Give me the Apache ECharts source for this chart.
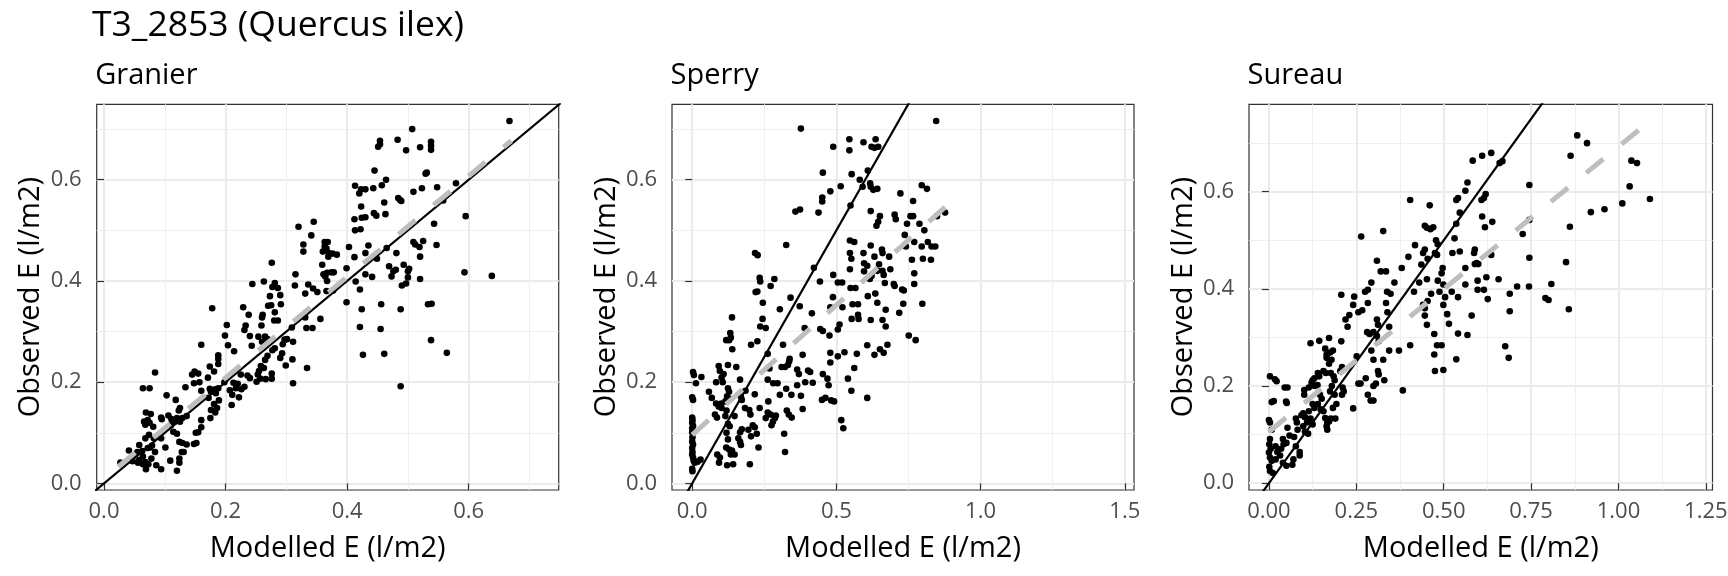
<!DOCTYPE html>
<html>
<head>
<meta charset="utf-8">
<script src="https://cdn.jsdelivr.net/npm/echarts@6/dist/echarts.min.js"></script>
<style>
  html, body { margin: 0; padding: 0; background: #fff; }
  #chart { width: 1728px; height: 576px; }
</style>
</head>
<body>
<div id="chart"></div>
<script>
// points: [modelled, observed]
var granierPoints = [
  [0.667,0.716],[0.507,0.700],[0.454,0.677],[0.454,0.670],[0.483,0.679],[0.451,0.665],[0.497,0.658],[0.538,0.675],[0.538,0.667],[0.538,0.659],
  [0.520,0.664],[0.445,0.618],[0.464,0.600],[0.529,0.612],[0.531,0.614],[0.579,0.593],[0.413,0.588],[0.423,0.581],[0.430,0.581],[0.443,0.583],
  [0.420,0.573],[0.457,0.589],[0.523,0.583],[0.509,0.576],[0.548,0.585],[0.484,0.564],[0.487,0.560],[0.489,0.558],[0.461,0.555],[0.558,0.559],
  [0.595,0.528],[0.423,0.547],[0.444,0.534],[0.448,0.529],[0.463,0.532],[0.424,0.525],[0.430,0.526],[0.412,0.522],[0.543,0.513],[0.413,0.500],
  [0.422,0.502],[0.320,0.507],[0.345,0.517],[0.341,0.490],[0.328,0.472],[0.328,0.458],[0.363,0.477],[0.368,0.477],[0.363,0.468],[0.366,0.464],
  [0.376,0.454],[0.383,0.452],[0.403,0.467],[0.435,0.470],[0.465,0.465],[0.481,0.455],[0.509,0.477],[0.512,0.472],[0.525,0.479],[0.519,0.467],
  [0.520,0.448],[0.547,0.471],[0.412,0.447],[0.430,0.455],[0.449,0.444],[0.493,0.432],[0.502,0.424],[0.500,0.419],[0.497,0.395],[0.500,0.407],
  [0.490,0.391],[0.520,0.404],[0.480,0.422],[0.473,0.409],[0.469,0.429],[0.476,0.419],[0.441,0.408],[0.430,0.413],[0.414,0.399],[0.421,0.383],
  [0.399,0.425],[0.399,0.358],[0.374,0.417],[0.378,0.417],[0.361,0.413],[0.364,0.409],[0.367,0.416],[0.359,0.432],[0.369,0.448],[0.360,0.458],
  [0.370,0.455],[0.367,0.400],[0.377,0.381],[0.366,0.380],[0.351,0.378],[0.344,0.385],[0.331,0.375],[0.336,0.393],[0.356,0.325],[0.331,0.328],
  [0.343,0.307],[0.333,0.307],[0.314,0.391],[0.315,0.413],[0.276,0.436],[0.244,0.394],[0.263,0.399],[0.281,0.396],[0.277,0.388],[0.286,0.386],
  [0.290,0.372],[0.273,0.370],[0.275,0.352],[0.270,0.351],[0.291,0.354],[0.281,0.338],[0.280,0.322],[0.286,0.322],[0.229,0.348],[0.238,0.333],
  [0.233,0.312],[0.231,0.303],[0.261,0.333],[0.260,0.328],[0.259,0.312],[0.240,0.291],[0.254,0.290],[0.265,0.290],[0.243,0.272],[0.260,0.280],
  [0.269,0.285],[0.202,0.313],[0.199,0.292],[0.204,0.273],[0.214,0.261],[0.178,0.346],[0.160,0.274],[0.188,0.253],[0.188,0.246],[0.297,0.284],
  [0.294,0.275],[0.301,0.285],[0.309,0.308],[0.311,0.280],[0.310,0.245],[0.277,0.263],[0.281,0.267],[0.293,0.257],[0.290,0.248],[0.299,0.233],
  [0.269,0.252],[0.265,0.244],[0.258,0.232],[0.255,0.222],[0.253,0.215],[0.263,0.228],[0.276,0.217],[0.276,0.207],[0.266,0.206],[0.257,0.207],
  [0.251,0.201],[0.236,0.213],[0.240,0.208],[0.225,0.215],[0.231,0.191],[0.217,0.188],[0.213,0.199],[0.220,0.197],[0.198,0.200],[0.207,0.184],
  [0.211,0.175],[0.226,0.186],[0.222,0.170],[0.210,0.155],[0.311,0.198],[0.334,0.228],[0.188,0.236],[0.181,0.221],[0.174,0.231],[0.155,0.217],
  [0.149,0.221],[0.145,0.215],[0.157,0.200],[0.171,0.209],[0.148,0.198],[0.160,0.183],[0.174,0.187],[0.176,0.181],[0.183,0.186],[0.184,0.178],
  [0.188,0.188],[0.172,0.169],[0.181,0.157],[0.189,0.164],[0.186,0.149],[0.183,0.140],[0.175,0.129],[0.176,0.145],[0.160,0.125],[0.160,0.111],
  [0.155,0.101],[0.151,0.100],[0.136,0.133],[0.134,0.190],[0.120,0.129],[0.116,0.122],[0.123,0.144],[0.125,0.149],[0.129,0.129],[0.118,0.165],
  [0.106,0.134],[0.111,0.127],[0.110,0.115],[0.125,0.122],[0.114,0.102],[0.120,0.098],[0.124,0.082],[0.129,0.080],[0.136,0.077],[0.128,0.062],
  [0.131,0.062],[0.124,0.049],[0.124,0.041],[0.120,0.025],[0.109,0.045],[0.101,0.071],[0.094,0.089],[0.095,0.127],[0.094,0.130],[0.103,0.174],
  [0.084,0.219],[0.064,0.188],[0.075,0.188],[0.069,0.140],[0.077,0.137],[0.066,0.122],[0.068,0.116],[0.072,0.125],[0.075,0.120],[0.081,0.112],
  [0.074,0.096],[0.068,0.089],[0.082,0.089],[0.079,0.075],[0.076,0.071],[0.084,0.062],[0.078,0.049],[0.086,0.036],[0.094,0.028],[0.072,0.070],
  [0.058,0.076],[0.041,0.065],[0.055,0.062],[0.051,0.057],[0.063,0.064],[0.064,0.053],[0.058,0.046],[0.056,0.041],[0.064,0.038],[0.068,0.042],
  [0.069,0.028],[0.073,0.038],[0.047,0.044],[0.027,0.041],[0.148,0.078],[0.152,0.080],[0.593,0.417],[0.638,0.410],[0.488,0.344],[0.539,0.355],
  [0.533,0.354],[0.456,0.354],[0.455,0.305],[0.421,0.309],[0.424,0.344],[0.538,0.283],[0.426,0.254],[0.461,0.256],[0.564,0.258],[0.488,0.192]
];

var sperryPoints = [
  [0.003,0.220],[0.006,0.214],[0.000,0.170],[0.003,0.165],[0.000,0.130],[0.001,0.125],[0.000,0.120],[0.003,0.114],[0.000,0.109],[0.000,0.101],
  [0.001,0.091],[0.000,0.083],[0.003,0.077],[0.000,0.070],[0.001,0.062],[0.000,0.057],[0.003,0.051],[0.005,0.045],[0.000,0.029],[0.001,0.024],
  [0.009,0.041],[0.013,0.198],[0.032,0.210],[0.029,0.047],[0.019,0.043],
  [0.058,0.181],[0.068,0.169],[0.083,0.200],[0.092,0.232],[0.096,0.222],[0.102,0.209],[0.106,0.200],[0.109,0.216],[0.079,0.136],[0.086,0.130],
  [0.083,0.158],[0.092,0.152],[0.101,0.158],[0.102,0.149],[0.115,0.162],[0.124,0.188],[0.128,0.181],[0.121,0.172],[0.130,0.167],[0.124,0.234],
  [0.132,0.297],[0.134,0.288],[0.118,0.283],[0.128,0.283],[0.138,0.328],[0.139,0.265],[0.153,0.230],[0.166,0.205],[0.169,0.171],[0.172,0.165],
  [0.147,0.133],[0.119,0.144],[0.115,0.133],[0.124,0.118],[0.130,0.113],[0.119,0.100],[0.124,0.087],[0.118,0.071],[0.128,0.067],[0.138,0.065],
  [0.134,0.057],[0.147,0.057],[0.087,0.057],[0.096,0.051],[0.093,0.041],[0.121,0.036],[0.142,0.038],[0.166,0.101],[0.172,0.107],[0.160,0.089],
  [0.166,0.082],[0.169,0.076],[0.183,0.149],[0.198,0.145],[0.202,0.136],[0.204,0.274],[0.226,0.281],[0.210,0.115],[0.217,0.111],[0.195,0.106],
  [0.204,0.093],[0.224,0.098],[0.200,0.038],[0.230,0.071],[0.234,0.149],[0.218,0.455],[0.227,0.451],[0.220,0.378],[0.226,0.379],[0.234,0.406],
  [0.236,0.399],[0.245,0.357],[0.244,0.325],[0.236,0.310],[0.255,0.307],[0.262,0.256],[0.268,0.227],[0.262,0.205],[0.285,0.404],[0.272,0.390],
  [0.281,0.198],[0.296,0.198],[0.264,0.162],[0.262,0.140],[0.272,0.136],[0.255,0.129],[0.275,0.115],[0.280,0.122],[0.287,0.129],[0.290,0.134],
  [0.304,0.175],[0.304,0.344],[0.310,0.230],[0.315,0.274],[0.322,0.230],[0.332,0.234],[0.326,0.187],[0.326,0.471],[0.341,0.367],[0.336,0.241],
  [0.338,0.246],[0.328,0.144],[0.335,0.136],[0.345,0.130],[0.319,0.098],[0.322,0.062],[0.344,0.175],[0.358,0.537],[0.374,0.541],[0.373,0.350],
  [0.377,0.701],[0.364,0.225],[0.370,0.216],[0.364,0.194],[0.383,0.147],[0.383,0.254],[0.392,0.200],[0.402,0.223],[0.409,0.220],[0.390,0.307],
  [0.415,0.336],[0.418,0.199],[0.422,0.426],[0.438,0.535],[0.451,0.565],[0.451,0.557],[0.453,0.614],[0.443,0.399],[0.444,0.305],[0.453,0.301],
  [0.453,0.216],[0.469,0.207],[0.473,0.194],[0.462,0.169],[0.482,0.164],[0.479,0.577],[0.489,0.665],[0.479,0.348],[0.476,0.292],[0.479,0.258],
  [0.479,0.239],[0.489,0.412],[0.488,0.368],[0.505,0.397],[0.515,0.587],[0.511,0.314],[0.520,0.397],[0.521,0.348],[0.505,0.251],[0.528,0.259],
  [0.517,0.125],[0.524,0.109],[0.540,0.207],[0.547,0.480],[0.545,0.680],[0.545,0.658],[0.549,0.549],[0.553,0.611],[0.547,0.455],[0.552,0.444],
  [0.547,0.423],[0.549,0.386],[0.553,0.325],[0.552,0.183],[0.556,0.354],[0.562,0.228],[0.562,0.477],[0.566,0.386],[0.571,0.256],[0.575,0.354],
  [0.575,0.333],[0.577,0.325],[0.581,0.600],[0.594,0.674],[0.594,0.455],[0.596,0.435],[0.596,0.419],[0.591,0.586],[0.607,0.273],[0.607,0.169],
  [0.609,0.618],[0.607,0.430],[0.609,0.370],[0.617,0.593],[0.619,0.586],[0.628,0.580],[0.622,0.665],[0.632,0.663],[0.619,0.538],[0.619,0.470],
  [0.622,0.410],[0.616,0.404],[0.619,0.323],[0.632,0.448],[0.636,0.680],[0.645,0.665],[0.632,0.254],[0.635,0.375],[0.642,0.357],[0.642,0.582],
  [0.639,0.509],[0.645,0.517],[0.651,0.528],[0.642,0.420],[0.648,0.433],[0.651,0.265],[0.664,0.258],[0.658,0.462],[0.660,0.455],[0.660,0.420],
  [0.664,0.412],[0.668,0.396],[0.660,0.323],[0.671,0.310],[0.671,0.343],[0.677,0.274],[0.683,0.448],[0.687,0.423],[0.702,0.531],[0.706,0.522],
  [0.699,0.394],[0.702,0.390],[0.718,0.337],[0.722,0.573],[0.728,0.383],[0.734,0.381],[0.732,0.355],[0.737,0.491],[0.745,0.513],[0.741,0.468],
  [0.751,0.292],[0.775,0.283],[0.757,0.528],[0.766,0.528],[0.762,0.442],[0.766,0.558],[0.770,0.477],[0.770,0.415],[0.770,0.394],[0.788,0.513],
  [0.796,0.589],[0.796,0.468],[0.798,0.355],[0.800,0.444],[0.805,0.500],[0.814,0.582],[0.817,0.477],[0.828,0.442],[0.830,0.468],[0.843,0.468],
  [0.846,0.716],[0.849,0.528],[0.877,0.535],[0.492,0.162],[0.450,0.165],[0.505,0.304],[0.217,0.176],[0.185,0.183],[0.377,0.173]
];

var sureauPoints = [
  [0.003,0.220],[0.017,0.214],[0.022,0.210],[0.045,0.197],[0.053,0.197],[0.008,0.167],[0.014,0.169],[0.049,0.168],[0.051,0.165],[0.000,0.130],
  [0.003,0.125],[0.008,0.110],[0.003,0.091],[0.001,0.080],[0.005,0.071],[0.000,0.063],[0.003,0.053],[0.008,0.046],[0.001,0.034],[0.003,0.025],
  [0.011,0.021],[0.019,0.076],[0.024,0.064],[0.032,0.057],[0.019,0.049],[0.035,0.071],[0.042,0.080],[0.040,0.091],[0.050,0.083],[0.059,0.098],
  [0.053,0.114],[0.040,0.042],[0.050,0.036],[0.067,0.038],[0.070,0.049],[0.077,0.076],[0.088,0.064],[0.088,0.057],[0.072,0.095],[0.082,0.110],
  [0.080,0.125],[0.077,0.133],[0.093,0.140],[0.098,0.144],[0.103,0.136],[0.098,0.117],[0.103,0.106],[0.112,0.102],[0.109,0.125],[0.119,0.133],
  [0.125,0.121],[0.114,0.148],[0.130,0.155],[0.125,0.163],[0.101,0.182],[0.101,0.192],[0.114,0.197],[0.119,0.288],[0.122,0.207],[0.131,0.200],
  [0.139,0.202],[0.130,0.216],[0.125,0.212],[0.140,0.227],[0.144,0.220],[0.144,0.293],[0.146,0.182],[0.151,0.174],[0.140,0.163],[0.148,0.152],
  [0.156,0.148],[0.161,0.134],[0.167,0.125],[0.165,0.117],[0.156,0.231],[0.163,0.227],[0.161,0.277],[0.165,0.265],[0.165,0.258],[0.172,0.299],
  [0.175,0.269],[0.179,0.254],[0.172,0.246],[0.183,0.273],[0.177,0.227],[0.185,0.220],[0.188,0.212],[0.180,0.200],[0.175,0.189],[0.188,0.182],
  [0.193,0.163],[0.183,0.155],[0.172,0.127],[0.167,0.110],[0.177,0.133],[0.190,0.133],[0.204,0.231],[0.207,0.292],[0.207,0.388],[0.209,0.239],
  [0.211,0.197],[0.214,0.189],[0.209,0.182],[0.219,0.337],[0.225,0.322],[0.230,0.346],[0.241,0.367],[0.244,0.384],[0.241,0.154],[0.251,0.261],
  [0.256,0.205],[0.262,0.205],[0.256,0.352],[0.264,0.508],[0.267,0.356],[0.275,0.394],[0.283,0.398],[0.281,0.311],[0.277,0.216],[0.283,0.371],
  [0.288,0.307],[0.299,0.311],[0.293,0.413],[0.283,0.182],[0.291,0.170],[0.299,0.170],[0.293,0.273],[0.299,0.254],[0.309,0.458],[0.309,0.337],
  [0.312,0.326],[0.309,0.303],[0.314,0.292],[0.299,0.200],[0.306,0.205],[0.312,0.231],[0.314,0.224],[0.320,0.436],[0.327,0.519],[0.327,0.254],
  [0.330,0.212],[0.335,0.436],[0.338,0.394],[0.335,0.371],[0.339,0.352],[0.344,0.322],[0.344,0.273],[0.348,0.390],[0.359,0.413],[0.372,0.273],
  [0.380,0.443],[0.383,0.191],[0.399,0.466],[0.404,0.583],[0.404,0.284],[0.415,0.394],[0.418,0.490],[0.430,0.413],[0.436,0.450],[0.441,0.474],
  [0.446,0.481],[0.441,0.367],[0.446,0.360],[0.446,0.530],[0.452,0.526],[0.454,0.462],[0.452,0.420],[0.446,0.345],[0.452,0.326],[0.454,0.375],
  [0.460,0.572],[0.462,0.523],[0.470,0.527],[0.464,0.390],[0.473,0.307],[0.473,0.265],[0.475,0.231],[0.478,0.500],[0.483,0.492],[0.475,0.474],
  [0.481,0.470],[0.481,0.284],[0.494,0.284],[0.483,0.417],[0.488,0.394],[0.494,0.432],[0.497,0.443],[0.499,0.367],[0.499,0.233],[0.499,0.409],
  [0.504,0.383],[0.510,0.348],[0.515,0.328],[0.523,0.394],[0.525,0.474],[0.531,0.504],[0.536,0.583],[0.541,0.587],[0.536,0.534],[0.536,0.255],
  [0.541,0.383],[0.546,0.477],[0.546,0.557],[0.541,0.308],[0.562,0.602],[0.562,0.443],[0.562,0.409],[0.568,0.619],[0.568,0.305],[0.580,0.345],
  [0.583,0.664],[0.587,0.474],[0.589,0.451],[0.594,0.453],[0.599,0.451],[0.589,0.481],[0.597,0.417],[0.597,0.398],[0.610,0.674],[0.608,0.583],
  [0.615,0.587],[0.620,0.595],[0.610,0.549],[0.615,0.398],[0.618,0.527],[0.622,0.424],[0.626,0.379],[0.636,0.680],[0.639,0.538],[0.636,0.470],
  [0.657,0.420],[0.660,0.659],[0.668,0.663],[0.676,0.282],[0.686,0.258],[0.689,0.354],[0.689,0.390],[0.710,0.405],[0.726,0.513],[0.745,0.614],
  [0.745,0.464],[0.744,0.405],[0.745,0.542],[0.791,0.381],[0.800,0.377],[0.808,0.410],[0.850,0.455],[0.858,0.358],[0.861,0.528],[0.863,0.674],
  [0.882,0.716],[0.910,0.700],[0.921,0.558],[0.960,0.564],[1.011,0.576],[1.032,0.611],[1.037,0.664],[1.053,0.659],[1.090,0.585]
];

// linear fit end points (grey dashed)
var granierFit = [[0.0235, 0.033], [0.670, 0.677]];
var sperryFit = [[0.000, 0.096], [0.877, 0.546]];
var sureauFit = [[0.000, 0.106], [1.058, 0.727]];

// 1:1 line, clipped by each panel
var identityRange = [-0.1, 1.6];

// axis extents
var granierX = [-0.012, 0.748], granierY = [-0.013, 0.749];
var sperryX = [-0.070, 1.532], sperryY = [-0.013, 0.749];
var sureauX = [-0.057, 1.269], sureauY = [-0.014, 0.780];

// tick values
var granierXTicks = [0, 0.2, 0.4, 0.6], granierXMinor = [0.1, 0.3, 0.5, 0.7];
var sperryXTicks = [0, 0.5, 1.0, 1.5], sperryXMinor = [0.25, 0.75, 1.25];
var sureauXTicks = [0, 0.25, 0.5, 0.75, 1.0, 1.25], sureauXMinor = [0.125, 0.375, 0.625, 0.875, 1.125];
var yTicks = [0, 0.2, 0.4, 0.6], yMinor = [0.1, 0.3, 0.5, 0.7];

var panelTitles = ['Granier', 'Sperry', 'Sureau'];
var mainTitle = 'T3_2853 (Quercus ilex)';

var FONT = 'Open Sans';
var chart = echarts.init(document.getElementById('chart'));

var panels = [
  { left: 96.7, width: 462, pts: granierPoints, fit: granierFit, x: granierX, y: granierY, xt: granierXTicks, xm: granierXMinor, xd: 1 },
  { left: 672, width: 462, pts: sperryPoints, fit: sperryFit, x: sperryX, y: sperryY, xt: sperryXTicks, xm: sperryXMinor, xd: 1 },
  { left: 1249, width: 463.5, pts: sureauPoints, fit: sureauFit, x: sureauX, y: sureauY, xt: sureauXTicks, xm: sureauXMinor, xd: 2 }
];

var grids = [], xAxes = [], yAxes = [], series = [], titles = [];
titles.push({ text: mainTitle, left: 92, top: 8, padding: 0,
  textStyle: { fontFamily: FONT, fontSize: 35.5, fontWeight: 'normal', color: '#000' } });

panels.forEach(function (p, i) {
  grids.push({ left: p.left, top: 104.3, width: p.width, height: 385.7, outerBoundsMode: 'none', containLabel: false,
    show: true, borderColor: '#333333', borderWidth: 1.2, backgroundColor: 'transparent' });
  titles.push({ text: panelTitles[i], left: p.left - 1.5, top: 61, padding: 0,
    textStyle: { fontFamily: FONT, fontSize: 29, fontWeight: 'normal', color: '#000' } });

  xAxes.push({
    type: 'value', gridIndex: i, min: p.x[0], max: p.x[1],
    name: 'Modelled E (l/m2)', nameLocation: 'middle', nameGap: 44,
    nameTextStyle: { fontFamily: FONT, fontSize: 29, color: '#000' },
    axisLine: { show: false },
    axisTick: { show: true, length: 7, customValues: p.xt, lineStyle: { color: '#333333', width: 1.2 } },
    axisLabel: { customValues: p.xt, margin: 11, fontFamily: FONT, fontSize: 22, color: '#4D4D4D',
      formatter: (function (d) { return function (v) { return Number(v).toFixed(d); }; })(p.xd) },
    splitLine: { show: true, lineStyle: { color: '#EBEBEB', width: 2.2 } }
  });
  xAxes.push({
    type: 'value', gridIndex: i, min: p.x[0], max: p.x[1],
    axisLine: { show: false }, axisLabel: { show: false },
    axisTick: { show: false, customValues: p.xm },
    splitLine: { show: true, lineStyle: { color: '#EFEFEF', width: 1.1 } }
  });
  yAxes.push({
    type: 'value', gridIndex: i, min: p.y[0], max: p.y[1],
    name: 'Observed E (l/m2)', nameLocation: 'middle', nameGap: 51,
    nameTextStyle: { fontFamily: FONT, fontSize: 29, color: '#000' },
    axisLine: { show: false },
    axisTick: { show: true, length: 7, customValues: yTicks, lineStyle: { color: '#333333', width: 1.2 } },
    axisLabel: { customValues: yTicks, margin: 15, fontFamily: FONT, fontSize: 22, color: '#4D4D4D',
      formatter: function (v) { return Number(v).toFixed(1); } },
    splitLine: { show: true, lineStyle: { color: '#EBEBEB', width: 2.2 } }
  });
  yAxes.push({
    type: 'value', gridIndex: i, min: p.y[0], max: p.y[1],
    axisLine: { show: false }, axisLabel: { show: false },
    axisTick: { show: false, customValues: yMinor },
    splitLine: { show: true, lineStyle: { color: '#EFEFEF', width: 1.1 } }
  });

  series.push({
    type: 'scatter', xAxisIndex: 2 * i, yAxisIndex: 2 * i, data: p.pts,
    symbol: 'circle', symbolSize: 6.6, itemStyle: { color: '#000', opacity: 1 }, silent: true, z: 3
  });
  series.push({
    type: 'line', xAxisIndex: 2 * i, yAxisIndex: 2 * i, clip: true,
    data: [[identityRange[0], identityRange[0]], [identityRange[1], identityRange[1]]],
    symbol: 'none', lineStyle: { color: '#000', width: 2.2 }, silent: true, z: 4
  });
  series.push({
    type: 'line', xAxisIndex: 2 * i, yAxisIndex: 2 * i, clip: true, data: p.fit,
    symbol: 'none', lineStyle: { color: '#BEBEBE', width: 5, type: [22, 23.5], cap: 'butt' }, silent: true, z: 5
  });
});

chart.setOption({
  animation: false,
  backgroundColor: '#ffffff',
  textStyle: { fontFamily: FONT },
  title: titles,
  grid: grids,
  xAxis: xAxes,
  yAxis: yAxes,
  series: series
});
</script>
</body>
</html>
